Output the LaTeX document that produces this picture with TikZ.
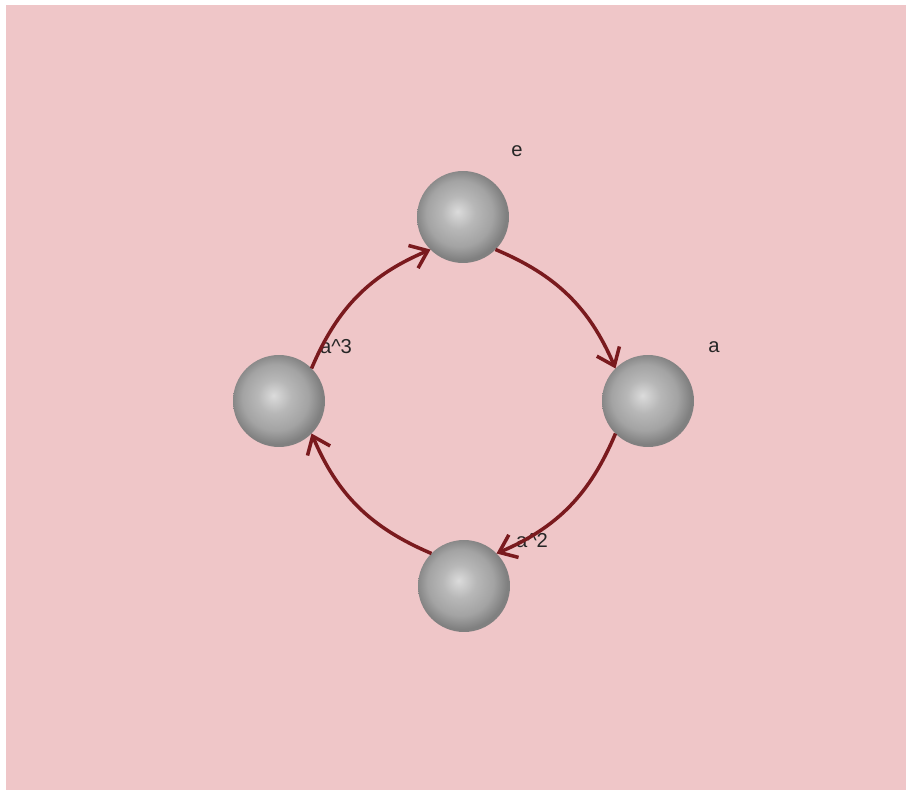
\documentclass[tikz,border=0pt]{standalone}
\usepackage{fontspec}
\setmainfont{Liberation Sans}
\usetikzlibrary{arrows.meta}
\definecolor{blush}{HTML}{EFC6C8}
\definecolor{oxblood}{HTML}{7A1A1E}
\pgfdeclareradialshading{pearl}{\pgfpoint{-3bp}{3bp}}{color(0bp)=(black!14); color(9bp)=(black!28); color(18bp)=(black!36); color(25bp)=(black!50); color(50bp)=(black!50)}

\begin{document}
\begin{tikzpicture}[x=0.02cm, y=0.02cm, font=\fontsize{11.5}{13}\selectfont,
  sphere/.style={circle, minimum size=1.84cm, inner sep=0pt, outer sep=0pt, shade, shading=pearl},
  lbl/.style={inner sep=0pt, text=black!85},
  arr/.style={draw=oxblood, line width=2pt, -{Straight Barb[length=9pt,width=14pt]}}]
  % frame and background
  \fill[white] (0,0) rectangle (913,796);
  \fill[blush] (6,6) rectangle (906,791);
  % group elements
  \node[sphere] (e)  at (463,579) {};
  \node[sphere] (a)  at (648,395) {};
  \node[sphere] (a2) at (464,210) {};
  \node[sphere] (a3) at (279,395) {};
  \node[lbl] (e-lbl)  at (517,645) {e};
  \node[lbl] (a-lbl)  at (714,449) {a};
  \node[lbl] (a2-lbl) at (532,255) {a\textasciicircum 2};
  \node[lbl] (a3-lbl) at (336,449) {a\textasciicircum 3};
  % cycle
  \draw[arr] (e.south east) to[bend left=22] (a.north west);
  \draw[arr] (a.south west) to[bend left=22] (a2.north east);
  \draw[arr] (a2.north west) to[bend left=22] (a3.south east);
  \draw[arr] (a3.north east) to[bend left=22] (e.south west);
\end{tikzpicture}
\end{document}
